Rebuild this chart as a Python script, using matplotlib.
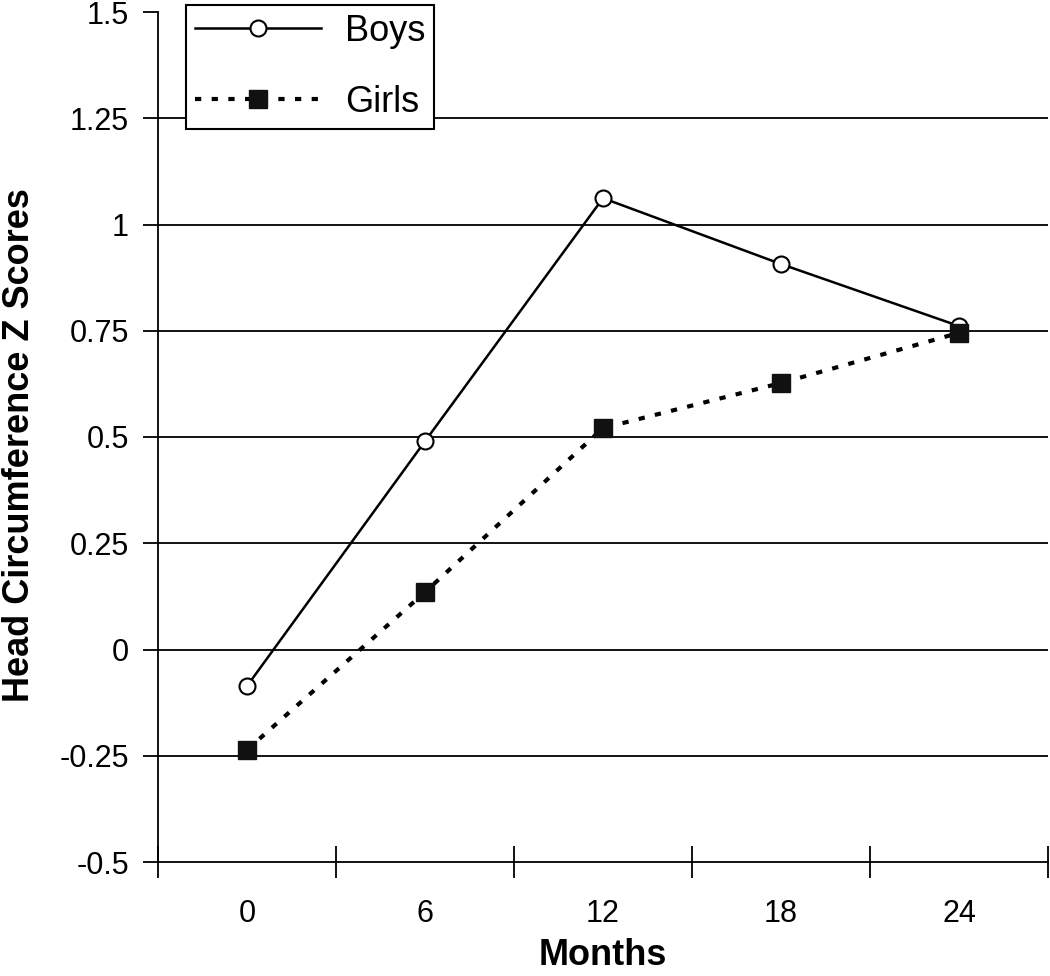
import numpy as np
import matplotlib.pyplot as plt

months = ['0', '6', '12', '18', '24']
boys = [-0.086, 0.49, 1.062, 0.907, 0.761]
girls = [-0.236, 0.135, 0.521, 0.627, 0.745]
yticks = [-0.5, -0.25, 0, 0.25, 0.5, 0.75, 1, 1.25, 1.5]
ytick_labels = ['-0.5', '-0.25', '0', '0.25', '0.5', '0.75', '1', '1.25', '1.5']

plt.rcParams['font.family'] = ['Liberation Sans', 'DejaVu Sans']

fig = plt.figure(figsize=(10.5, 9.76), dpi=100)
ax = fig.add_axes([158/1050, 1 - 862/976, 890/1050, 850/976])

x = np.arange(len(months))

# horizontal grid lines (not at the very top)
for yv in yticks[1:-1]:
    ax.axhline(yv, color='black', lw=1.3, zorder=1)

ax.plot(x, boys, '-', color='black', lw=1.8, marker='o', markersize=11.5,
        markerfacecolor='white', markeredgecolor='black', markeredgewidth=1.5,
        label='Boys', zorder=3)
ax.plot(x, girls, color='black', lw=3, linestyle=(0, (1.5, 2.5)), marker='s',
        markersize=12.5, markerfacecolor='#111111', markeredgecolor='#111111',
        label='Girls', zorder=3)

ax.set_xlim(-0.5, len(months) - 0.5)
ax.set_ylim(-0.5, 1.5)

ax.set_yticks(yticks)
ax.set_yticklabels(ytick_labels, fontsize=22)
ax.tick_params(axis='y', direction='out', length=11, width=1.3, pad=10)

ax.set_xticks(np.arange(-0.5, len(months), 1))
ax.set_xticklabels([])
ax.set_xticks(x, minor=True)
ax.set_xticklabels(months, minor=True, fontsize=22)
ax.tick_params(axis='x', which='major', direction='inout', length=23, width=1.3)
ax.tick_params(axis='x', which='minor', length=0, pad=27)

for s in ['top', 'right']:
    ax.spines[s].set_visible(False)
for s in ['left', 'bottom']:
    ax.spines[s].set_linewidth(1.3)

ax.set_ylabel('Head Circumference Z Scores', fontsize=26, fontweight='bold')
ax.yaxis.set_label_coords((37 - 158) / 890, 0.49)
ax.set_xlabel('Months', fontsize=26, fontweight='bold', va='bottom')
ax.xaxis.set_label_coords(0.5, (862 - 973) / 850)

leg = ax.legend(loc='upper left', bbox_to_anchor=(186/1050, 1 - 5/976),
                bbox_transform=fig.transFigure, fontsize=26, frameon=True,
                fancybox=False, edgecolor='black', framealpha=1,
                handlelength=3.5, labelspacing=1.0, borderpad=0.25,
                handletextpad=0.65, borderaxespad=0)
leg.get_frame().set_linewidth(1.5)

fig.savefig('out.png', dpi=100)
